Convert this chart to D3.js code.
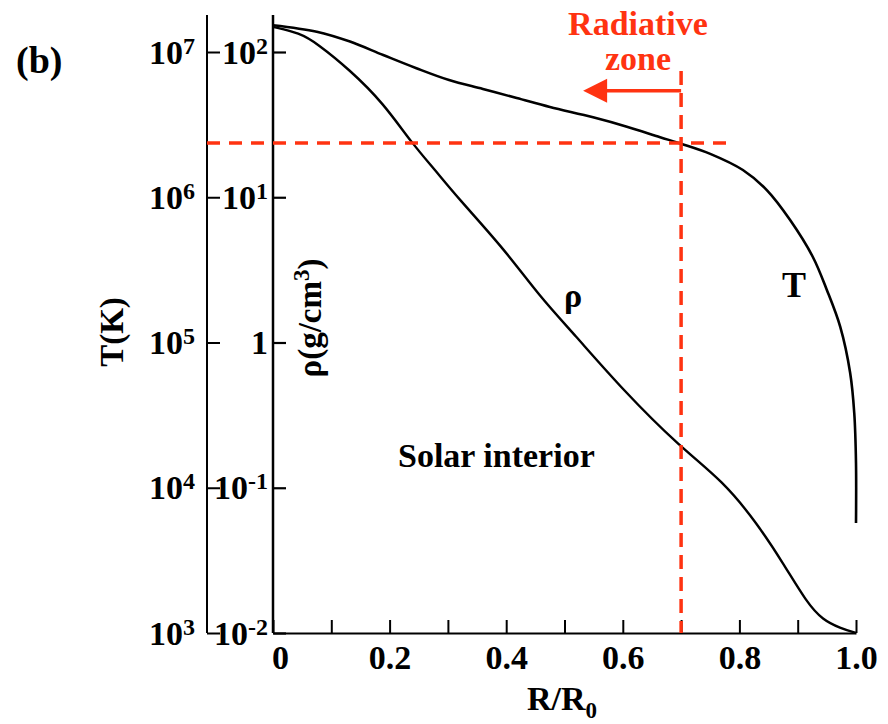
<!DOCTYPE html>
<html>
<head>
<meta charset="utf-8">
<script src="https://cdn.jsdelivr.net/npm/d3@7"></script>
<style>
  body { margin: 0; background: #fff; }
</style>
</head>
<body>
<div id="chart"></div>
<script>
// Temperature profile (R/R0, T in K)
const radiusT = [0, 0.075, 0.132, 0.189, 0.246, 0.302, 0.360, 0.418, 0.475, 0.549, 0.607, 0.664, 0.701, 0.750, 0.806, 0.847, 0.887, 0.926, 0.950, 0.973, 0.990, 0.997, 1.0, 1.0];
const temperature = [1.53e7, 1.38e7, 1.18e7, 9.53e6, 7.73e6, 6.41e6, 5.56e6, 4.82e6, 4.18e6, 3.55e6, 3.06e6, 2.59e6, 2.33e6, 1.99e6, 1.54e6, 1.12e6, 6.97e5, 3.88e5, 2.30e5, 1.28e5, 6.17e4, 3.27e4, 1.48e4, 5.71e3];

// Density profile (R/R0, rho in g/cm3)
const radiusRho = [0, 0.046, 0.075, 0.132, 0.189, 0.238, 0.278, 0.316, 0.395, 0.458, 0.515, 0.600, 0.698, 0.772, 0.830, 0.875, 0.916, 0.943, 0.973, 1.0];
const density = [149, 135, 115, 75.2, 44.6, 23.6, 15.4, 10.0, 4.48, 2.06, 1.16, 0.471, 0.191, 0.111, 0.0571, 0.0303, 0.0161, 0.0123, 0.0108, 0.0100];

// Tick values and labels
const tTicks = [1e3, 1e4, 1e5, 1e6, 1e7];
const tTickExp = ["3", "4", "5", "6", "7"];
const rhoTicks = [1e-2, 1e-1, 1, 1e1, 1e2];
const rhoTickBase = ["10", "10", "1", "10", "10"];
const rhoTickExp = ["-2", "-1", "", "1", "2"];
const xTicks = [0, 0.1, 0.2, 0.3, 0.4, 0.5, 0.6, 0.7, 0.8, 0.9, 1.0];
const xTickLabels = ["0", "", "0.2", "", "0.4", "", "0.6", "", "0.8", "", "1.0"];

// Radiative zone annotation
const radiativeEdge = 0.7;
const tAtEdge = 2.36e6;
const hLineEnd = 0.78;
const vLineTop = 7.4e6;
const arrowT = 5.4e6;
const arrowTip = 0.532;

const red = "#ff3311";
const width = 888, height = 724;

const svg = d3.select("#chart").append("svg")
    .attr("width", width)
    .attr("height", height);

const x = d3.scaleLinear().domain([0, 1]).range([273, 856]);
const yT = d3.scaleLog().domain([1e3, 1e7]).range([633, 52]);
const yRho = d3.scaleLog().domain([1e-2, 1e2]).range([633, 52]);
const axisTopY = 15;
const tAxisX = 207;

// T axis (outer)
const tAxis = svg.append("g")
    .attr("transform", `translate(${tAxisX},0)`)
    .call(d3.axisRight(yT).tickValues(tTicks).tickSize(13).tickFormat(""));
tAxis.select(".domain").remove();
tAxis.selectAll(".tick line").attr("stroke", "#000").attr("stroke-width", 2);
tAxis.append("line")
    .attr("y1", axisTopY).attr("y2", yT(1e3))
    .attr("stroke", "#000").attr("stroke-width", 2);

const tLab = svg.append("g").selectAll("text")
    .data(tTicks)
    .join("text")
    .attr("x", tAxisX - 12)
    .attr("y", d => yT(d))
    .attr("dy", "0.34em")
    .attr("text-anchor", "end")
    .attr("font-size", 34);
tLab.append("tspan").text("10");
tLab.append("tspan").attr("dy", -10).attr("font-size", 24).text((d, i) => tTickExp[i]);

// rho axis (inner)
const rAxis = svg.append("g")
    .attr("transform", `translate(${x(0)},0)`)
    .call(d3.axisRight(yRho).tickValues(rhoTicks).tickSize(13).tickFormat(""));
rAxis.select(".domain").remove();
rAxis.selectAll(".tick line").attr("stroke", "#000").attr("stroke-width", 2.2);
rAxis.append("line")
    .attr("y1", axisTopY).attr("y2", yRho(1e-2))
    .attr("stroke", "#000").attr("stroke-width", 2.5);

const rLab = svg.append("g").selectAll("text")
    .data(rhoTicks)
    .join("text")
    .attr("x", x(0) - 5)
    .attr("y", d => yRho(d))
    .attr("dy", "0.34em")
    .attr("text-anchor", "end")
    .attr("font-size", 34);
rLab.append("tspan").text((d, i) => rhoTickBase[i]);
rLab.append("tspan").attr("dy", -10).attr("font-size", 24).text((d, i) => rhoTickExp[i]);

// x axis
const xAxis = svg.append("g")
    .attr("transform", `translate(0,${yRho(1e-2)})`)
    .call(d3.axisBottom(x).tickValues(xTicks).tickSizeInner(-13).tickSizeOuter(0).tickPadding(12)
        .tickFormat((d, i) => xTickLabels[i]));
xAxis.select(".domain").attr("stroke-width", 2);
xAxis.selectAll(".tick line").attr("stroke-width", 2);
xAxis.selectAll(".tick text")
    .attr("font-size", 34)
    .attr("fill", "#000")
    .attr("dx", (d, i) => i === 0 ? 7 : 0);

// Curves
const lineT = d3.line()
    .x((d, i) => x(radiusT[i]))
    .y(d => yT(d))
    .curve(d3.curveCatmullRom.alpha(0.5));
const lineRho = d3.line()
    .x((d, i) => x(radiusRho[i]))
    .y(d => yRho(d))
    .curve(d3.curveBasis);

svg.append("path")
    .attr("d", lineT(temperature))
    .attr("fill", "none").attr("stroke", "#000").attr("stroke-width", 2.6);
svg.append("path")
    .attr("d", lineRho(density))
    .attr("fill", "none").attr("stroke", "#000").attr("stroke-width", 2.4);

// Red annotation
svg.append("line")
    .attr("x1", tAxisX).attr("x2", x(hLineEnd))
    .attr("y1", yT(tAtEdge)).attr("y2", yT(tAtEdge))
    .attr("stroke", red).attr("stroke-width", 3.5).attr("stroke-dasharray", "13,9");
svg.append("line")
    .attr("x1", x(radiativeEdge)).attr("x2", x(radiativeEdge))
    .attr("y1", yT(vLineTop)).attr("y2", yT(1e3))
    .attr("stroke", red).attr("stroke-width", 3.5).attr("stroke-dasharray", "14,8");
svg.append("line")
    .attr("x1", x(radiativeEdge)).attr("x2", x(arrowTip) + 20)
    .attr("y1", yT(arrowT)).attr("y2", yT(arrowT))
    .attr("stroke", red).attr("stroke-width", 3.5);
svg.append("path")
    .attr("d", `M${x(arrowTip)},${yT(arrowT)}L${x(arrowTip) + 24},${yT(arrowT) - 12}L${x(arrowTip) + 24},${yT(arrowT) + 12}Z`)
    .attr("fill", red);

svg.append("text").attr("x", 638).attr("y", 35).attr("text-anchor", "middle")
    .attr("font-size", 34).attr("fill", red).text("Radiative");
svg.append("text").attr("x", 638).attr("y", 70).attr("text-anchor", "middle")
    .attr("font-size", 34).attr("fill", red).text("zone");

// Labels
svg.append("text").attr("x", 16).attr("y", 73).attr("font-size", 38).text("(b)");

svg.append("text")
    .attr("transform", "translate(123,332) rotate(-90)")
    .attr("text-anchor", "middle").attr("font-size", 33).text("T(K)");

const rhoTitle = svg.append("text")
    .attr("transform", "translate(321,318) rotate(-90)")
    .attr("text-anchor", "middle").attr("font-size", 33);
rhoTitle.append("tspan").text("ρ(g/cm");
rhoTitle.append("tspan").attr("dy", -12).attr("font-size", 23).text("3");
rhoTitle.append("tspan").attr("dy", 12).text(")");

const rTitle = svg.append("text")
    .attr("x", 562).attr("y", 710).attr("text-anchor", "middle").attr("font-size", 34);
rTitle.append("tspan").text("R/R");
rTitle.append("tspan").attr("dy", 8).attr("font-size", 23).text("0");

svg.append("text").attr("x", 573).attr("y", 307).attr("text-anchor", "middle")
    .attr("font-size", 34).text("ρ");
svg.append("text").attr("x", 794).attr("y", 297).attr("text-anchor", "middle")
    .attr("font-size", 36).text("T");
svg.append("text").attr("x", 398).attr("y", 467).attr("font-size", 34).text("Solar interior");

// Times-style bold serif on every label
svg.selectAll("text")
    .style("font-family", '"Liberation Serif"')
    .style("font-weight", "bold");
</script>
</body>
</html>
